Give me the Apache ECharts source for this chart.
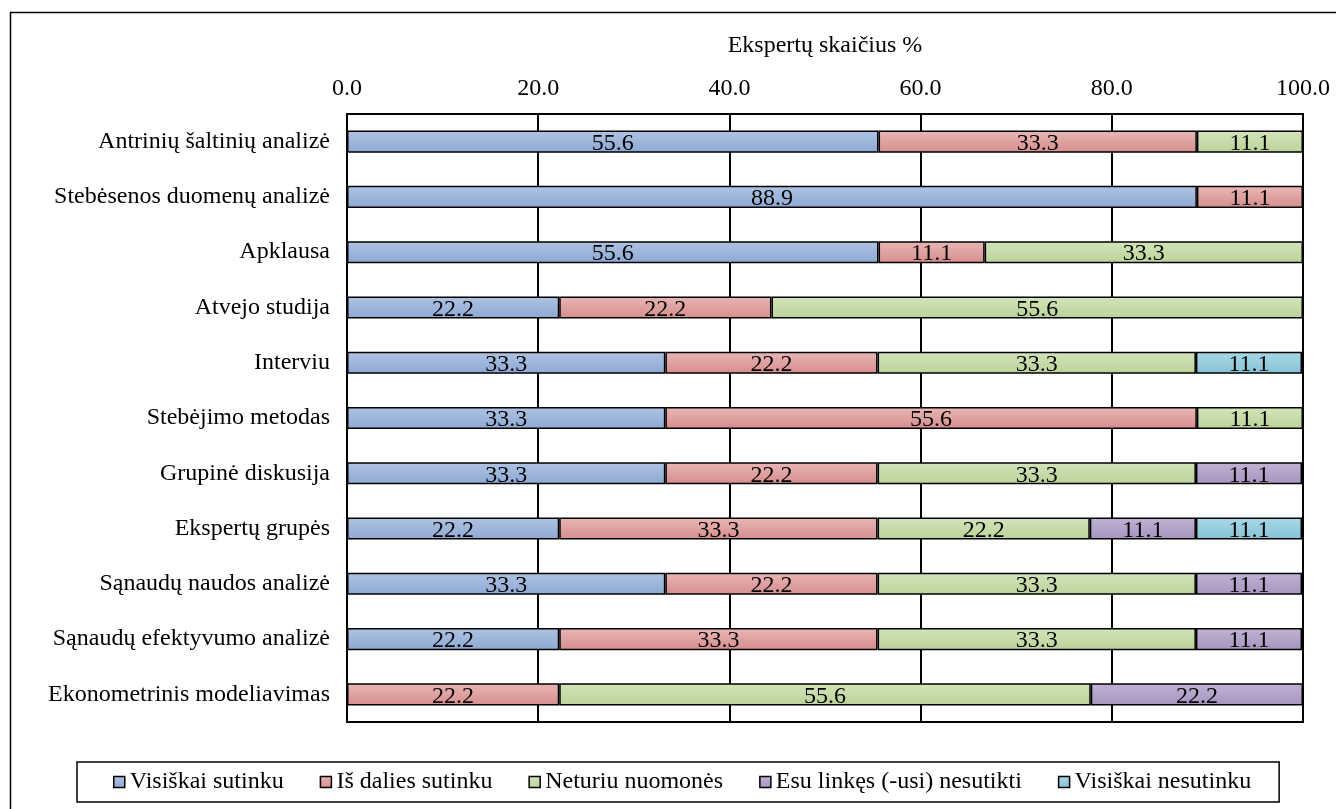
<!DOCTYPE html>
<html>
<head>
<meta charset="utf-8">
<script src="https://cdn.jsdelivr.net/npm/echarts@6/dist/echarts.min.js"></script>
<style>
	html, body {margin: 0; padding: 0; background: #fff;}
	#chart {width: 1336px; height: 809px;}
</style>
</head>
<body>
<div id="chart"></div>
<script>
var categories = [
	'Antrinių šaltinių analizė',
	'Stebėsenos duomenų analizė',
	'Apklausa',
	'Atvejo studija',
	'Interviu',
	'Stebėjimo metodas',
	'Grupinė diskusija',
	'Ekspertų grupės',
	'Sąnaudų naudos analizė',
	'Sąnaudų efektyvumo analizė',
	'Ekonometrinis modeliavimas'
];
var seriesNames = ['Visiškai sutinku', 'Iš dalies sutinku', 'Neturiu nuomonės', 'Esu linkęs (-usi) nesutikti', 'Visiškai nesutinku'];
// '-' = no bar for that answer
var fullyAgree    = [55.6, 88.9, 55.6, 22.2, 33.3, 33.3, 33.3, 22.2, 33.3, 22.2, '-'];
var partlyAgree   = [33.3, 11.1, 11.1, 22.2, 22.2, 55.6, 22.2, 33.3, 22.2, 33.3, 22.2];
var noOpinion     = [11.1, '-', 33.3, 55.6, 33.3, 11.1, 33.3, 22.2, 33.3, 33.3, 55.6];
var tendDisagree  = ['-', '-', '-', '-', '-', '-', 11.1, 11.1, 11.1, 11.1, 22.2];
var fullyDisagree = ['-', '-', '-', '-', 11.1, '-', '-', 11.1, '-', '-', '-'];
var xTicks = [0, 20, 40, 60, 80, 100];

var FONT = '"Liberation Serif", "Times New Roman", serif';
var FSIZE = 24;
var colors = [
	['#b0c4e2', '#8ca8d4'],
	['#e9b7b6', '#d58d8c'],
	['#d3e4bb', '#bad398'],
	['#c0b3d4', '#a694c0'],
	['#a8d8e6', '#86c2d5']
];

var chart = echarts.init(document.getElementById('chart'));

function _grad(c) {
	return new echarts.graphic.LinearGradient(0, 0, 0, 1, [
		{offset: 0, color: c[0]},
		{offset: 1, color: c[1]}
	]);
}

var allData = [fullyAgree, partlyAgree, noOpinion, tendDisagree, fullyDisagree];
var series = allData.map(function(d, i) {
	return {
		name: seriesNames[i],
		type: 'bar',
		stack: 'total',
		data: d,
		barCategoryGap: '60%',
		itemStyle: {
			color: _grad(colors[i]),
			borderColor: '#000',
			borderWidth: 1.5
		},
		label: {
			show: true,
			position: 'inside',
			color: '#000',
			fontFamily: FONT,
			fontSize: FSIZE,
			offset: [0, 2],
			formatter: function(p) {
				return Number(p.value).toFixed(1);
			}
		}
	};
});

chart.setOption({
	animation: false,
	textStyle: {fontFamily: FONT},
	graphic: [{
		type: 'rect',
		left: 8,
		top: 10,
		shape: {width: 1340, height: 810},
		style: {fill: 'none', stroke: '#000', lineWidth: 1.5},
		silent: true
	}],
	grid: {
		left: 347,
		right: 33,
		top: 114,
		bottom: 87,
		show: true,
		borderColor: '#000',
		borderWidth: 2
	},
	legend: {
		left: 77,
		bottom: 7,
		padding: [8, 28, 8, 36],
		itemGap: 36,
		itemWidth: 11,
		itemHeight: 11,
		itemStyle: {borderColor: '#000', borderWidth: 1.5},
		borderColor: '#000',
		borderWidth: 1.5,
		icon: 'rect',
		textStyle: {fontFamily: FONT, fontSize: FSIZE, color: '#000'},
		data: seriesNames
	},
	xAxis: {
		type: 'value',
		position: 'top',
		min: xTicks[0],
		max: xTicks[xTicks.length - 1],
		interval: xTicks[1] - xTicks[0],
		name: 'Ekspertų skaičius %',
		nameLocation: 'middle',
		nameGap: 56,
		nameTextStyle: {fontFamily: FONT, fontSize: FSIZE, color: '#000'},
		axisLine: {show: false},
		axisTick: {show: false},
		axisLabel: {
			margin: 13,
			color: '#000',
			fontFamily: FONT,
			fontSize: FSIZE,
			formatter: function(v) { return v.toFixed(1); }
		},
		splitLine: {show: true, lineStyle: {color: '#000', width: 2}}
	},
	yAxis: {
		type: 'category',
		inverse: true,
		data: categories,
		axisLine: {show: true, lineStyle: {color: '#000', width: 2}},
		axisTick: {show: false},
		axisLabel: {
			margin: 17,
			color: '#000',
			fontFamily: FONT,
			fontSize: FSIZE
		}
	},
	series: series
});
</script>
</body>
</html>
